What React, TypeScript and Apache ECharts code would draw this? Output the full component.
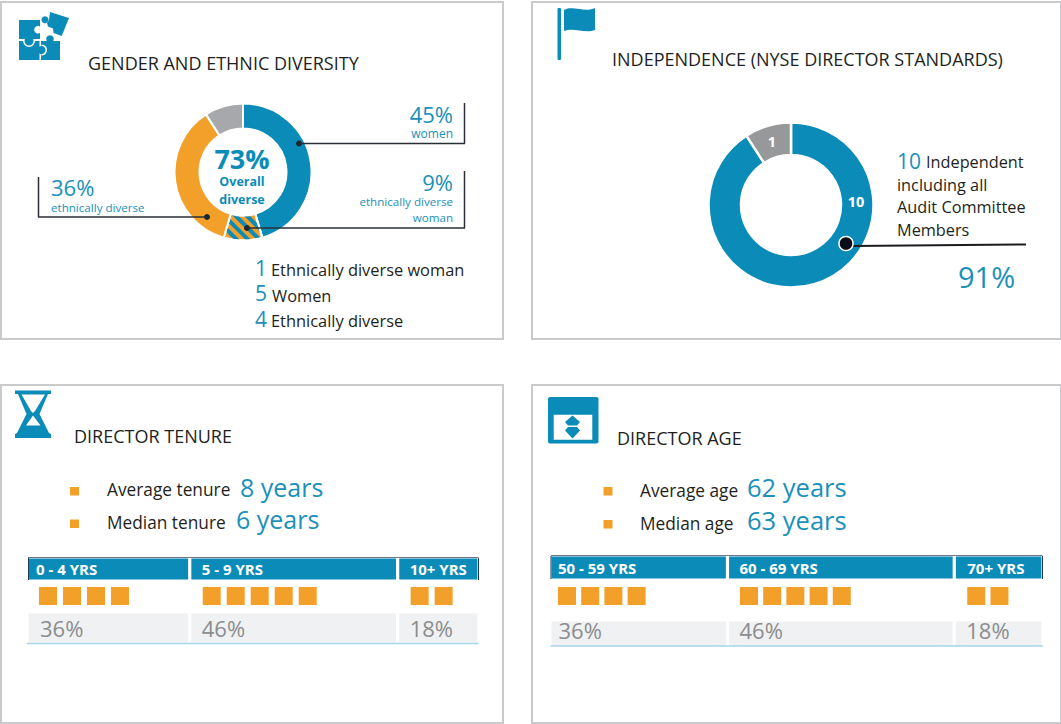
import React, { useEffect, useRef } from "react";
import * as echarts from "echarts";

const BLUE = "#0a8bb8";
const TEXTBLUE = "#1a90bb";
const ORANGE = "#f2a029";
const INK = "#231f20";
const FONT = "'Open Sans', sans-serif";

// Data
const diversityNames = ["Women", "Ethnically diverse woman", "Ethnically diverse", "Other"];
const diversityCounts = [5, 1, 4, 1];
const independenceNames = ["Independent", "Not independent"];
const independenceCounts = [10, 1];
const tenureLabels = ["0 - 4 YRS", "5 - 9 YRS", "10+ YRS"];
const tenureShares = [36, 46, 18];
const tenureCounts = [4, 5, 2];
const ageLabels = ["50 - 59 YRS", "60 - 69 YRS", "70+ YRS"];
const ageShares = [36, 46, 18];
const ageCounts = [4, 5, 2];

echarts.graphic.registerShape(
  "flagCloth",
  echarts.graphic.extendPath("M564 10 C573 5 585 13 595 8 L595 30 C585 34 574 27 564 31 Z", {})
);

type TextOpts = { align?: string; weight?: number | string; sx?: number };
const T = (text: string, x: number, y: number, size: number, fill: string, o: TextOpts = {}) => ({
  type: "text",
  x,
  y,
  z: 10,
  scaleX: o.sx ?? 1,
  style: {
    text,
    x: 0,
    y: 0,
    fill,
    font: `${o.weight ?? 400} ${size}px ${FONT}`,
    textAlign: o.align ?? "left",
    textVerticalAlign: "middle",
  },
});
const R = (x: number, y: number, width: number, height: number, fill: string, r = 0) => ({
  type: "rect",
  z: 9,
  shape: { x, y, width, height, r },
  style: { fill },
});
const C = (cx: number, cy: number, r: number, fill: string) => ({
  type: "circle",
  z: 9,
  shape: { cx, cy, r },
  style: { fill },
});
const A = (cx: number, cy: number, r: number, startAngle: number, endAngle: number) => ({
  type: "arc",
  z: 9,
  shape: { cx, cy, r, startAngle, endAngle },
  style: { stroke: "#fff", lineWidth: 1.5, fill: "none" },
});
const P = (points: number[][], fill: string) => ({
  type: "polygon",
  z: 9,
  shape: { points },
  style: { fill },
});
const L = (x1: number, y1: number, x2: number, y2: number, stroke: string, lineWidth = 1.5) => ({
  type: "line",
  z: 10,
  shape: { x1, y1, x2, y2 },
  style: { stroke, lineWidth },
});
const Panel = (x: number, y: number, width: number, height: number) => ({
  type: "rect",
  z: 0,
  shape: { x, y, width, height },
  style: { fill: "#fff", stroke: "#c9cacb", lineWidth: 2 },
});

type TableCfg = {
  id: string;
  x: number;
  width: number;
  headY: number;
  headH: number;
  sqY: number;
  sqSize: number;
  pitch: number;
  sqOffsets: number[];
  textOffsets: number[];
  grayOffsets: number[];
  grayY: number;
  grayH: number;
  grayTextDy: number;
  labels: string[];
  shares: number[];
  counts: number[];
};

function buildTable(c: TableCfg, baseGrid: number) {
  const axisHidden = { show: false };
  const grids = [
    { left: c.x - 1, top: c.headY - 1, width: c.width + 2, height: c.headH + 2 },
    { left: c.x - 1, top: c.sqY, width: c.width + 2, height: c.sqSize },
    { left: c.x - 1, top: c.grayY - 1, width: c.width + 2, height: c.grayH + 2 },
  ];
  const xAxis = grids.map((_, i) => ({ gridIndex: baseGrid + i, type: "value", min: 0, max: 100, ...axisHidden }));
  const yAxis = grids.map((_, i) => ({ gridIndex: baseGrid + i, type: "category", data: ["row"], ...axisHidden }));
  const series: any[] = [];
  c.shares.forEach((share, i) => {
    series.push({
      type: "bar",
      xAxisIndex: baseGrid,
      yAxisIndex: baseGrid,
      stack: c.id + "head",
      barWidth: "100%",
      data: [share],
      itemStyle: { color: BLUE, borderColor: "#fff", borderWidth: 1.6 },
      label: {
        show: true,
        position: "insideLeft",
        distance: c.textOffsets[i] + 1,
        formatter: c.labels[i],
        color: "#fff",
        fontFamily: FONT,
        fontWeight: 700,
        fontSize: 15,
      },
    });
    series.push({
      type: "bar",
      xAxisIndex: baseGrid + 2,
      yAxisIndex: baseGrid + 2,
      stack: c.id + "gray",
      barWidth: "100%",
      data: [share],
      itemStyle: { color: "#f0f1f2", borderColor: "#fff", borderWidth: 1.6 },
      label: {
        show: true,
        position: "insideLeft",
        distance: c.grayOffsets[i] + 1,
        offset: [0, c.grayTextDy],
        formatter: `${share}%`,
        color: "#8b8d8f",
        fontFamily: FONT,
        fontSize: 22,
      },
    });
  });
  const pxPerUnit = (c.width + 2) / 100;
  const points: number[][] = [];
  let start = 0;
  c.counts.forEach((count, i) => {
    for (let k = 0; k < count; k++) {
      points.push([start + (c.sqOffsets[i] + 1 + c.sqSize / 2 + k * c.pitch) / pxPerUnit, 0]);
    }
    start += c.shares[i];
  });
  series.push({
    type: "scatter",
    xAxisIndex: baseGrid + 1,
    yAxisIndex: baseGrid + 1,
    symbol: "rect",
    symbolSize: c.sqSize,
    itemStyle: { color: ORANGE, opacity: 1 },
    data: points,
  });
  return { grids, xAxis, yAxis, series };
}

const tenureTable = buildTable(
  {
    id: "t", x: 28, width: 450, headY: 558, headH: 22, sqY: 587, sqSize: 18, pitch: 24,
    sqOffsets: [11, 12, 12], textOffsets: [8, 11, 11], grayOffsets: [12, 11, 11],
    grayY: 613, grayH: 30, grayTextDy: 0,
    labels: tenureLabels, shares: tenureShares, counts: tenureCounts,
  },
  0
);
const ageTable = buildTable(
  {
    id: "a", x: 551, width: 491, headY: 556, headH: 23, sqY: 587, sqSize: 18, pitch: 23.2,
    sqOffsets: [7, 11.5, 12], textOffsets: [7, 11, 12], grayOffsets: [7.5, 11, 11],
    grayY: 621, grayH: 25, grayTextDy: -4,
    labels: ageLabels, shares: ageShares, counts: ageCounts,
  },
  3
);

const DARK = "#2a2f35";
const graphics: any[] = [
  Panel(1, 2, 502, 337),
  Panel(532, 2, 529, 337),
  Panel(1, 385, 502, 338),
  Panel(532, 385, 529, 338),

  // puzzle icon
  R(19, 20, 21, 19, BLUE),
  R(19, 41, 20.5, 19, BLUE),
  R(41, 41, 19, 19, BLUE),
  C(29, 41, 4.5, BLUE),
  A(29, 41, 5.2, 0, Math.PI),
  C(50, 39, 3.8, BLUE),
  C(41.5, 50, 4, BLUE),
  A(41.5, 50, 4.8, -Math.PI / 2, Math.PI / 2),
  C(38, 29.7, 3.8, "#fff"),
  P([[50, 12], [69, 18], [61.7, 36], [53.5, 33], [53, 28.5], [48, 26.5], [47, 23], [49, 20]], BLUE),
  C(45, 19.7, 3.5, BLUE),

  // flag icon
  R(557.5, 8, 3.5, 52, BLUE, 1),
  { type: "flagCloth", z: 9, style: { fill: BLUE } },

  // hourglass icon
  P([[15, 390.5], [51, 390.5], [51, 394], [48, 394], [39.5, 414], [49, 433], [51, 434], [51, 438], [15, 438], [15, 434], [17, 433], [26.5, 414], [18, 394], [15, 394]], BLUE),
  P([[21.5, 394.5], [45, 394.5], [35, 411], [33, 413], [31, 411]], "#fff"),
  P([[33, 415.5], [40.5, 425.5], [26, 425.5]], "#fff"),

  // age icon
  R(548, 397, 50.5, 46.5, BLUE, 2),
  R(553.7, 414.7, 38.6, 25, "#fff"),
  P([[572.5, 415.5], [580, 422], [577, 425.6], [568, 425.6], [565, 422]], BLUE),
  P([[568, 427], [577, 427], [580, 430.5], [572.5, 438.5], [565, 430.5]], BLUE),

  // titles
  T("GENDER AND ETHNIC DIVERSITY", 88, 63, 18, INK),
  T("INDEPENDENCE (NYSE DIRECTOR STANDARDS)", 612, 59, 18, INK),
  T("DIRECTOR TENURE", 74, 436, 18, INK),
  T("DIRECTOR AGE", 617, 438, 18, INK),

  // diversity callouts
  L(464.5, 103, 464.5, 143.5, DARK), L(299, 143.5, 465, 143.5, DARK), C(299, 143.5, 3, "#1b2530"),
  L(464.5, 171, 464.5, 228, DARK), L(247, 228, 465, 228, DARK), C(247, 228, 3, "#1b2530"),
  L(38.5, 177, 38.5, 217, DARK), L(38, 217, 207, 217, DARK), C(207, 217, 3, "#1b2530"),
  T("45%", 453, 114, 22, TEXTBLUE, { align: "right" }),
  T("women", 453, 133, 12, TEXTBLUE, { align: "right" }),
  T("9%", 453, 182, 22, TEXTBLUE, { align: "right" }),
  T("ethnically diverse", 453, 201, 11.6, TEXTBLUE, { align: "right" }),
  T("woman", 453, 217, 11.6, TEXTBLUE, { align: "right" }),
  T("36%", 51, 187, 22, TEXTBLUE),
  T("ethnically diverse", 51, 207, 11.6, TEXTBLUE),
  T("73%", 242, 158, 27, BLUE, { align: "center", weight: 700 }),
  T("Overall", 242, 181, 12.5, BLUE, { align: "center", weight: 700 }),
  T("diverse", 242, 199, 12.5, BLUE, { align: "center", weight: 700 }),
  T(String(diversityCounts[1]), 255, 268, 21, TEXTBLUE),
  T(diversityNames[1], 271, 269, 16.4, INK),
  T(String(diversityCounts[0]), 255, 293, 21, TEXTBLUE),
  T(diversityNames[0], 272, 295, 16.4, INK),
  T(String(diversityCounts[2]), 255, 319, 21, TEXTBLUE),
  T(diversityNames[2], 271, 320, 16.4, INK),

  // independence callouts
  L(853, 246, 1026, 244.5, "#1a1c20", 2),
  { type: "circle", z: 11, shape: { cx: 846, cy: 243.5, r: 7 }, style: { fill: "#0a0c1a", stroke: "#fff", lineWidth: 1.5 } },
  T(String(independenceCounts[0]), 856, 201, 14.5, "#fff", { align: "center", weight: 700 }),
  T(String(independenceCounts[1]), 772, 141, 14.5, "#fff", { align: "center", weight: 700 }),
  T(String(independenceCounts[0]), 897, 161, 21, TEXTBLUE),
  T(independenceNames[0], 926, 162, 16.3, INK),
  T("including all", 897, 185, 16.3, INK),
  T("Audit Committee", 897, 207, 16.3, INK),
  T("Members", 897, 230, 16.3, INK),
  T("91%", 958, 276, 29, TEXTBLUE),

  // tenure
  R(70, 487, 9, 8.5, ORANGE),
  R(70, 519.5, 9, 8.5, ORANGE),
  T("Average tenure", 107, 489, 17.3, INK),
  T("8 years", 240, 486.5, 25, TEXTBLUE),
  T("Median tenure", 107, 522, 17.3, INK),
  T("6 years", 236, 518.5, 25, TEXTBLUE),
  L(28, 557.5, 478.5, 557.5, "#6d7680", 1),
  L(28.5, 558, 28.5, 580, "#1f3b55", 1),
  L(478.5, 558, 478.5, 580, "#1f3b55", 1),
  L(27, 643.5, 478.5, 643.5, "#a5d5e8", 1.5),

  // age
  R(603.5, 487, 9, 8.5, ORANGE),
  R(603.5, 520, 9, 8.5, ORANGE),
  T("Average age", 640, 490, 17.3, INK),
  T("62 years", 747, 486.5, 25.5, TEXTBLUE),
  T("Median age", 640, 523, 17.3, INK),
  T("63 years", 747, 519.5, 25.5, TEXTBLUE),
  L(551, 555.5, 1042.5, 555.5, "#6d7680", 1),
  L(551, 556, 551, 579, "#1f3b55", 1),
  L(1042.5, 556, 1042.5, 579, "#1f3b55", 1),
  L(550.5, 646, 1043, 646, "#a5d5e8", 1.5),
];

const option: any = {
  animation: false,
  backgroundColor: "#fff",
  textStyle: { fontFamily: FONT },
  grid: [...tenureTable.grids, ...ageTable.grids],
  xAxis: [...tenureTable.xAxis, ...ageTable.xAxis],
  yAxis: [...tenureTable.yAxis, ...ageTable.yAxis],
  graphic: { elements: graphics },
  series: [
    {
      type: "pie",
      z: 3,
      center: [243, 172],
      radius: [43.5, 68.5],
      startAngle: 90,
      silent: true,
      label: { show: false },
      labelLine: { show: false },
      itemStyle: { borderColor: "#fff", borderWidth: 2 },
      data: diversityNames.map((name, i) => ({
        name,
        value: diversityCounts[i],
        itemStyle:
          i === 1
            ? {
                color: ORANGE,
                decal: {
                  symbol: "rect",
                  color: BLUE,
                  backgroundColor: ORANGE,
                  dashArrayX: [1, 0],
                  dashArrayY: [3.5, 3.5],
                  rotation: Math.PI / 4,
                },
              }
            : { color: [BLUE, ORANGE, ORANGE, "#a7a8ab"][i] },
      })),
    },
    {
      type: "pie",
      z: 3,
      center: [791, 205],
      radius: [50, 82.5],
      startAngle: 90,
      silent: true,
      label: { show: false },
      labelLine: { show: false },
      itemStyle: { borderColor: "#fff", borderWidth: 2.5 },
      data: independenceNames.map((name, i) => ({
        name,
        value: independenceCounts[i],
        itemStyle: { color: [BLUE, "#97989a"][i] },
      })),
    },
    ...tenureTable.series,
    ...ageTable.series,
  ],
};

export default function App() {
  const ref = useRef<HTMLDivElement>(null);
  useEffect(() => {
    document.body.style.margin = "0";
    const chart = echarts.init(ref.current!, undefined, { renderer: "svg" });
    chart.setOption(option);
    return () => chart.dispose();
  }, []);
  return <div ref={ref} style={{ width: 1061, height: 724 }} />;
}
